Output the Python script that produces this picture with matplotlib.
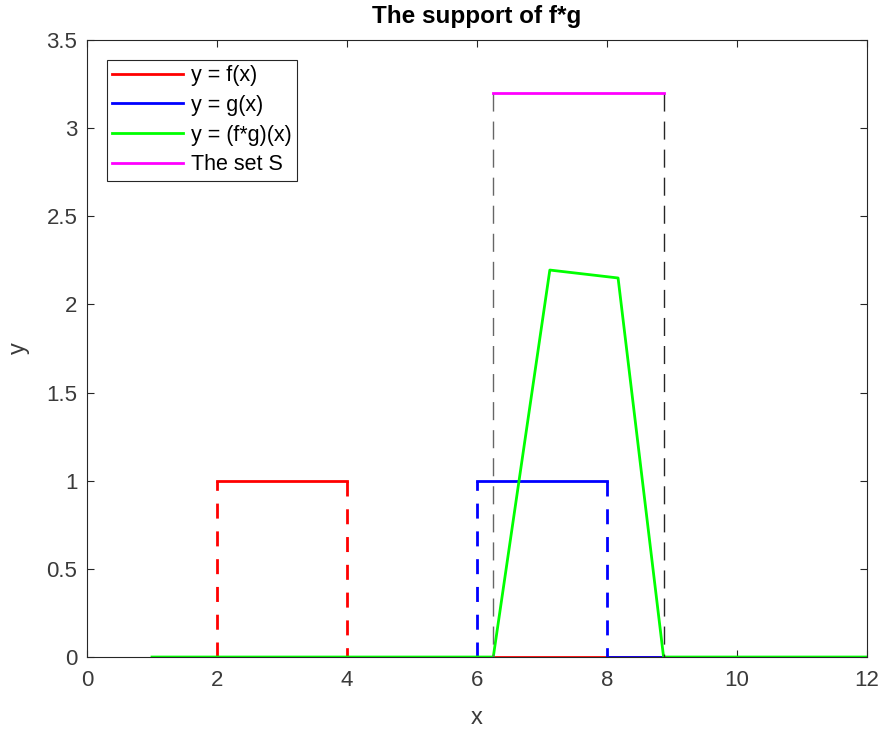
import matplotlib.pyplot as plt

plt.rcParams["font.family"] = ["Liberation Sans", "DejaVu Sans"]

# f(x): indicator of [2, 4]
f_x = [1, 2, 2, 4, 4, 12]
f_y = [0, 0, 1, 1, 0, 0]

# g(x): indicator of [6, 8]
g_x = [1, 6, 6, 8, 8, 12]
g_y = [0, 0, 1, 1, 0, 0]

# (f*g)(x)
fg_x = [1, 6.25, 7.12, 8.17, 8.87, 12]
fg_y = [0, 0, 2.195, 2.15, 0, 0]

# the set S
s_left = 6.25
s_right = 8.88
s_level = 3.2

RED = "#ff0000"
BLUE = "#0000ff"
GREEN = "#00ff00"
MAGENTA = "#ff00ff"
AXIS = "#262626"
LABEL = "#3a3a3a"

fig = plt.figure(figsize=(8.85, 7.31), dpi=100)
ax = fig.add_axes([0.0983, 0.1012, 0.8814, 0.8441])

lw = 2.0
dash = (5.4, 4.6)


def draw_step(ax, xs, ys, color, label):
    # zero parts and top part solid, jumps dashed
    ax.plot(xs[0:2], ys[0:2], color=color, lw=lw, label=label)
    ax.plot(xs[1:3], ys[1:3], color=color, lw=lw, dashes=dash)
    ax.plot(xs[2:4], ys[2:4], color=color, lw=lw)
    ax.plot(xs[3:5], ys[3:5], color=color, lw=lw, dashes=dash)
    ax.plot(xs[4:6], ys[4:6], color=color, lw=lw)


draw_step(ax, f_x, f_y, RED, "y = f(x)")
draw_step(ax, g_x, g_y, BLUE, "y = g(x)")
ax.plot(fg_x, fg_y, color=GREEN, lw=lw, label="y = (f*g)(x)")

ax.plot([s_left, s_left], [s_level, 0], color="0.4", lw=1.0,
        dashes=(13, 7.2))
ax.plot([s_right, s_right], [s_level, 0], color="0.15", lw=1.0,
        dashes=(13, 7.2))
ax.plot([s_left, s_right], [s_level, s_level], color=MAGENTA, lw=lw,
        label="The set S")

ax.set_xlim(0, 12)
ax.set_ylim(0, 3.5)
ax.set_xticks(range(0, 13, 2))
ax.set_yticks([0, 0.5, 1, 1.5, 2, 2.5, 3, 3.5])
ax.set_yticklabels(["0", "0.5", "1", "1.5", "2", "2.5", "3", "3.5"])

ax.tick_params(direction="in", top=True, right=True, length=5,
               width=0.8, colors=AXIS, labelcolor=LABEL, labelsize=16)
ax.tick_params(axis="x", pad=9)
ax.tick_params(axis="y", pad=7)
for spine in ax.spines.values():
    spine.set_color(AXIS)
    spine.set_linewidth(0.8)

ax.set_xlabel("x", fontsize=17, color=LABEL, labelpad=12)
ax.set_ylabel("y", fontsize=17, color=LABEL, labelpad=12)
ax.set_title("The support of f*g", fontsize=17.5, fontweight="bold",
             color="black", pad=12)

leg = ax.legend(loc="upper left", fontsize=15.5, handlelength=3.3,
                handletextpad=0.33, labelspacing=0.4, borderpad=0.25,
                borderaxespad=0.93, fancybox=False, framealpha=1,
                edgecolor=AXIS)
leg.get_frame().set_linewidth(0.8)

fig.savefig("out.png", dpi=100)
